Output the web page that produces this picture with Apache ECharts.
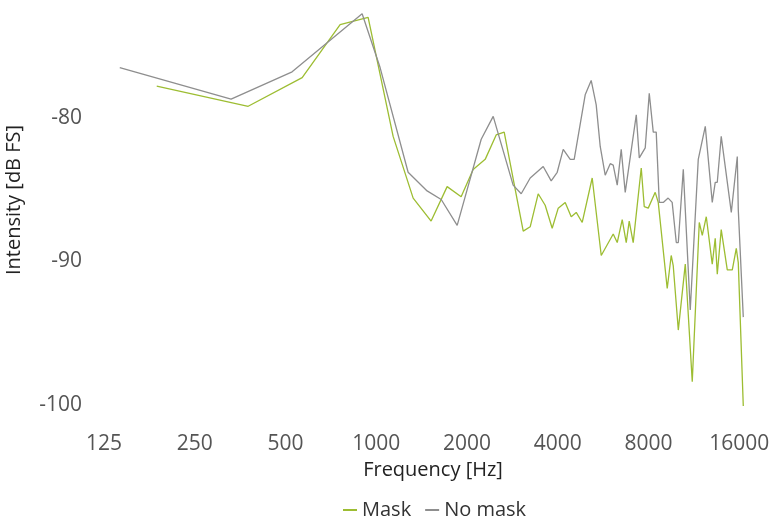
<!DOCTYPE html>
<html>
<head>
<meta charset="utf-8">
<script src="https://cdn.jsdelivr.net/npm/echarts@6/dist/echarts.min.js"></script>
<style>
  html, body { margin: 0; padding: 0; background: #fff; }
  #chart { width: 777px; height: 519px; }
</style>
</head>
<body>
<div id="chart"></div>
<script>
// tick labels of the x axis (octave steps)
const freqTicks = [125, 250, 500, 1000, 2000, 4000, 8000, 16000];
const dbTicks = [-100, -90, -80];

// No mask
const noMaskFreq = [141, 330, 526, 898, 1030, 1276, 1475, 1643, 1856, 2230, 2444, 2846, 3027, 3242, 3581, 3806, 3985, 4172, 4401, 4537,
  4935, 5166, 5368, 5535, 5750, 5975, 6113, 6303, 6498, 6700, 7290, 7460, 7806, 8050, 8300, 8490, 8690, 8958, 9300, 9590,
  9896, 10050, 10440, 11010, 11705, 12350, 13025, 13325, 13535, 13950, 15065, 15770, 15890, 16510];
const noMaskDb = [-76.5, -78.7, -76.8, -72.75, -76.5, -83.8, -85.1, -85.7, -87.5, -81.5, -79.9, -84.7, -85.3, -84.2, -83.4, -84.4, -83.8, -82.2, -82.9, -82.9,
  -78.4, -77.4, -79.1, -82.0, -84.0, -83.2, -83.3, -84.7, -82.2, -85.2, -79.8, -82.8, -82.1, -78.3, -81.0, -81.0, -85.9, -85.9, -85.6, -85.9,
  -88.7, -88.7, -83.6, -93.4, -82.9, -80.6, -85.9, -84.5, -84.5, -81.3, -86.6, -82.7, -86.4, -93.9];

// Mask
const maskFreq = [187, 376, 568, 759, 940, 1138, 1326, 1521, 1719, 1913, 2097, 2299, 2500, 2658, 3074, 3242, 3446, 3635, 3835, 4016,
  4236, 4435, 4608, 4824, 5206, 5578, 6113, 6303, 6548, 6752, 6907, 7121, 7572, 7748, 7988, 8425, 8622, 9234, 9520, 9667,
  10050, 10600, 11180, 11795, 12070, 12445, 13025, 13325, 13535, 13950, 14610, 15180, 15650, 15890, 16510];
const maskDb = [-77.8, -79.2, -77.2, -73.5, -73.0, -81.3, -85.6, -87.2, -84.8, -85.5, -83.6, -82.9, -81.2, -81.0, -87.9, -87.6, -85.3, -86.1, -87.7, -86.3,
  -85.9, -86.9, -86.6, -87.3, -84.2, -89.6, -88.1, -88.7, -87.1, -88.7, -87.2, -88.7, -83.5, -86.2, -86.3, -85.2, -85.9, -91.9, -89.6, -90.3,
  -94.8, -90.2, -98.4, -87.3, -88.2, -86.9, -90.2, -88.4, -90.9, -87.8, -90.6, -90.6, -89.1, -90.1, -100.1];

const FONT = 'Open Sans';
const chart = echarts.init(document.getElementById('chart'));

const option = {
  animation: false,
  textStyle: { fontFamily: FONT },
  legend: {
    top: 495,
    left: 338,
    itemGap: 14,
    itemWidth: 14,
    itemHeight: 2,
    icon: 'rect',
    textStyle: { fontSize: 20, color: '#333', fontFamily: FONT },
    data: ['Mask', 'No mask']
  },
  grid: {
    left: 104,
    right: 33,
    top: 3,
    bottom: 100,
    outerBoundsMode: 'none'
  },
  xAxis: {
    type: 'log',
    logBase: 2,
    min: 125,
    max: 16600,
    name: 'Frequency [Hz]',
    nameLocation: 'middle',
    nameGap: 40,
    nameTextStyle: { fontSize: 20, color: '#222', fontFamily: FONT, padding: [0, 0, 0, 18] },
    axisLine: { show: false },
    axisTick: { show: false },
    splitLine: { show: false },
    axisLabel: {
      customValues: freqTicks,
      margin: 15,
      fontSize: 21,
      color: '#555',
      fontFamily: FONT,
      formatter: v => String(Math.round(v))
    }
  },
  yAxis: {
    type: 'value',
    min: -101,
    max: -72,
    name: 'Intensity [dB FS]',
    nameLocation: 'middle',
    nameGap: 80,
    nameTextStyle: { fontSize: 20, color: '#222', fontFamily: FONT, padding: [0, 0, 0, 22] },
    axisLine: { show: false },
    axisTick: { show: false },
    splitLine: { show: false },
    axisLabel: {
      customValues: dbTicks,
      margin: 22,
      fontSize: 21,
      color: '#555',
      fontFamily: FONT
    }
  },
  series: [
    {
      name: 'Mask',
      type: 'line',
      clip: false,
      symbol: 'none',
      lineStyle: { color: '#9dbd32', width: 1.3 },
      itemStyle: { color: '#9dbd32' },
      data: maskFreq.map((f, i) => [f, maskDb[i]])
    },
    {
      name: 'No mask',
      type: 'line',
      clip: false,
      symbol: 'none',
      lineStyle: { color: '#8e8e8e', width: 1.3 },
      itemStyle: { color: '#8e8e8e' },
      data: noMaskFreq.map((f, i) => [f, noMaskDb[i]])
    }
  ]
};

chart.setOption(option);
window.addEventListener('resize', () => chart.resize());
</script>
</body>
</html>
